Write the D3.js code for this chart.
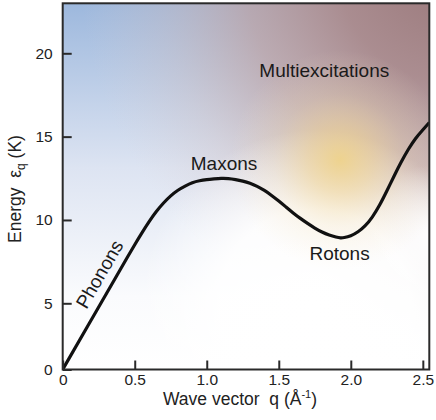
<!DOCTYPE html>
<html><head><meta charset="utf-8">
<script src="https://cdn.jsdelivr.net/npm/d3@7"></script>
<style>
body{margin:0;background:#fff;}
svg{display:block;font-family:"Liberation Sans",Arial,Helvetica,sans-serif;}
text{white-space:pre;}
</style>
</head><body><svg id="c" width="436" height="420"></svg>
<script>
// ---- data ----
const waveVector = [0, 0.2, 0.4, 0.45, 0.5, 0.55, 0.6, 0.65, 0.7, 0.75, 0.8, 0.85, 0.9, 0.95, 1.0,
  1.05, 1.1, 1.15, 1.2, 1.25, 1.3, 1.35, 1.4, 1.45, 1.5, 1.55, 1.6, 1.65, 1.7, 1.75, 1.8, 1.85, 1.9,
  1.93, 1.95, 2.0, 2.05, 2.1, 2.15, 2.2, 2.25, 2.3, 2.35, 2.4, 2.45, 2.5, 2.545];
const energy = [0, 3.78, 7.03, 7.78, 8.52, 9.23, 9.91, 10.52, 11.03, 11.46, 11.80, 12.04, 12.25, 12.36, 12.42,
  12.46, 12.5, 12.49, 12.43, 12.34, 12.21, 12.02, 11.78, 11.48, 11.14, 10.78, 10.42, 10.09, 9.79, 9.51, 9.27, 9.09, 8.97,
  8.92, 8.93, 9.03, 9.27, 9.63, 10.16, 10.87, 11.73, 12.63, 13.49, 14.26, 14.92, 15.41, 15.85];
const xTickValues = [0, 0.5, 1.0, 1.5, 2.0, 2.5];
const xTickLabels = ["0", "0.5", "1.0", "1.5", "2.0", "2.5"];
const yTickValues = [0, 5, 10, 15, 20];
const yTickLabels = ["0", "5", "10", "15", "20"];
const regionNames = ["Phonons", "Maxons", "Rotons", "Multiexcitations"];
const regionQ = [0.165, 0.889, 1.713, 1.365];
const regionE = [4.49, 13.0, 7.6, 18.58];

// ---- layout ----
const L = 62.7, R = 429.3, T = 3.3, B = 369.5;
const svg = d3.select("#c");
const x = d3.scaleLinear().domain([0, 2.545]).range([L, R]);
const y = d3.scaleLinear().domain([0, 5, 23]).range([B, 303.3, T]);

// ---- background gradients ----
const defs = svg.append("defs");
function radial(id, cx, cy, r, stops){
  const g = defs.append("radialGradient").attr("id",id).attr("gradientUnits","userSpaceOnUse")
    .attr("cx",cx).attr("cy",cy).attr("r",r);
  stops.forEach(s=>g.append("stop").attr("offset",s[0]).attr("stop-color",s[1]).attr("stop-opacity",s[2]));
}
const lg = defs.append("linearGradient").attr("id","gBlue").attr("x1",0).attr("y1",0).attr("x2",0).attr("y2",1);
lg.append("stop").attr("offset","0").attr("stop-color","#9db8dd");
lg.append("stop").attr("offset","0.45").attr("stop-color","#dde4f2");
lg.append("stop").attr("offset","0.8").attr("stop-color","#fafbfd");
lg.append("stop").attr("offset","1").attr("stop-color","#ffffff");

radial("gBrown", 450, -30, 370, [[0,"#9a787a",1],[0.3,"#aa8a8c",0.95],[0.55,"#c0a09e",0.7],[0.78,"#d4bab6",0.3],[1,"#e0d0d0",0]]);
radial("gWhite", 315, 305, 175, [[0,"#ffffff",1],[0.55,"#ffffff",0.9],[1,"#ffffff",0]]);
radial("gWhite2", 432, 235, 70, [[0,"#ffffff",0.95],[1,"#ffffff",0]]);
radial("gYellow", 340, 160, 110, [[0,"#f0d387",0.9],[0.3,"#f1d698",0.6],[0.6,"#f3deb0",0.25],[1,"#f6e6c8",0]]);

defs.append("clipPath").attr("id","clip").append("rect").attr("x",L).attr("y",T).attr("width",R-L).attr("height",B-T);

const bg = svg.append("g").attr("clip-path","url(#clip)");
["gBlue","gBrown","gWhite","gWhite2","gYellow"].forEach(id=>
  bg.append("rect").attr("x",L).attr("y",T).attr("width",R-L).attr("height",B-T).attr("fill",`url(#${id})`));

// ---- curve ----
const pts = waveVector.map((q,i)=>[q, energy[i]]);
const line = d3.line().x(d=>x(d[0])).y(d=>y(d[1])).curve(d3.curveBasis);
svg.append("g").attr("clip-path","url(#clip)").append("path").datum(pts)
  .attr("d",line).attr("fill","none").attr("stroke","#111").attr("stroke-width",3.2)
  .attr("stroke-linejoin","round");

// ---- axes ----
const xAxis = d3.axisBottom(x).tickValues(xTickValues).tickFormat((d,i)=>xTickLabels[i])
  .tickSizeInner(-9).tickSizeOuter(0).tickPadding(4);
const gx = svg.append("g").attr("transform",`translate(0,${B})`).call(xAxis);
const yAxis = d3.axisLeft(y).tickValues(yTickValues).tickFormat((d,i)=>yTickLabels[i])
  .tickSizeInner(-9).tickSizeOuter(0).tickPadding(10);
const gy = svg.append("g").attr("transform",`translate(${L},0)`).call(yAxis);
[gx,gy].forEach(g=>{
  g.select(".domain").remove();
  g.selectAll(".tick line").attr("stroke","#2a2a2a").attr("stroke-width",2);
  g.selectAll(".tick text").attr("fill","#222").style("font-size","15.5px").style("font-family","inherit");
});

// frame
svg.append("rect").attr("x",L).attr("y",T).attr("width",R-L).attr("height",B-T)
  .attr("fill","none").attr("stroke","#2a2a2a").attr("stroke-width",2);

// ---- axis titles ----
const xt = svg.append("text").attr("x",240).attr("y",405).attr("text-anchor","middle")
  .attr("fill","#222").style("font-size","17.5px");
xt.append("tspan").text("Wave vector  q (Å");
xt.append("tspan").attr("dy",-7).style("font-size","11px").text("-1");
xt.append("tspan").attr("dy",7).text(")");

const yt = svg.append("text").attr("transform",`translate(21,189) rotate(-90)`).attr("text-anchor","middle")
  .attr("fill","#222").style("font-size","17.5px");
yt.append("tspan").text("Energy  ε");
yt.append("tspan").attr("dy",4).style("font-size","12px").text("q");
yt.append("tspan").attr("dy",-4).text(" (K)");

// ---- region labels ----
svg.append("g").selectAll("text").data(regionNames).join("text")
  .attr("transform",(d,i)=>`translate(${x(regionQ[i])},${y(regionE[i])}) rotate(${i===0?-60:0})`)
  .attr("fill","#1a1a1a").style("font-size","19px").text(d=>d);
</script></body></html>
